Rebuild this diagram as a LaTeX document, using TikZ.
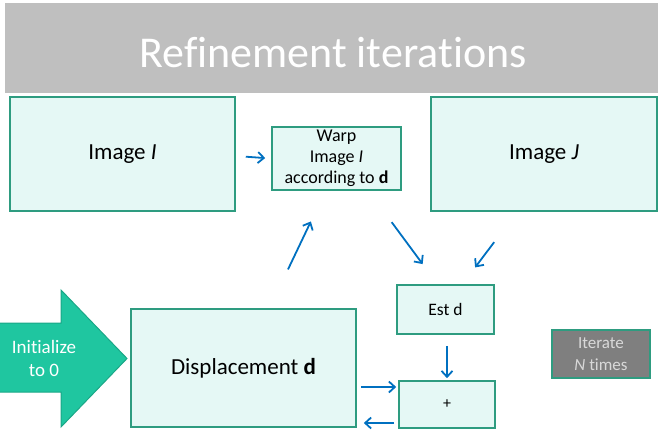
\documentclass[tikz,border=0pt]{standalone}
\usepackage{fontspec}
\setmainfont{Carlito}[Ligatures=NoCommon]
\usepackage{tikz}
\usetikzlibrary{arrows.meta}
\definecolor{boxfill}{HTML}{E5F8F5}
\definecolor{boxline}{HTML}{2E9C80}
\definecolor{flow}{HTML}{0070C0}
\definecolor{initfill}{HTML}{1FC6A0}
\definecolor{initline}{HTML}{1AA787}
\definecolor{banner}{HTML}{BFBFBF}
\definecolor{iterfill}{HTML}{7F7F7F}

\begin{document}
\begin{tikzpicture}[x=1pt,y=-1pt,
  box/.style={draw=boxline,fill=boxfill,line width=1.6pt,inner sep=0pt,align=center},
  flowarrow/.style={draw=flow,line width=1.8pt,-{Straight Barb[length=6pt,width=11pt]}}]
  \useasboundingbox (0,0) rectangle (658,430);
  \fill[banner] (5,3) rectangle (665,93);
  \node[text=white,font=\fontsize{44}{50}\selectfont] (title) at (333,53) {Refinement iterations};
  \node[box,minimum width=225pt,minimum height=114pt,font=\fontsize{23}{27}\selectfont] (imgI) at (122.5,154) {Image \textit{I}};
  \node[box,minimum width=226pt,minimum height=114pt,font=\fontsize{23}{27}\selectfont] (imgJ) at (544,154) {Image \textit{J}};
  \node[box,minimum width=129pt,minimum height=63pt,font=\fontsize{18}{21}\selectfont] (warp) at (336.5,158.5) {Warp\\Image \textit{I}\\according to \textbf{d}};
  \node[box,minimum width=97pt,minimum height=49pt,font=\fontsize{17.5}{21}\selectfont] (estd) at (445.5,309.5) {Est d};
  \node[box,minimum width=96pt,minimum height=47pt,font=\fontsize{16}{20}\selectfont] (plus) at (447,404.5) {+};
  \node[box,minimum width=225pt,minimum height=118pt,font=\fontsize{23}{27}\selectfont] (disp) at (243.5,368) {Displacement \textbf{d}};
  \node[box,fill=iterfill,text=black!15,minimum width=98pt,minimum height=48pt,
    font=\fontsize{17}{22}\selectfont] (iter) at (601,354) {Iterate\\\textit{N} times};
  \draw[fill=initfill,draw=initline,line width=1pt] (-5,323) -- (61,323) -- (61,290) -- (127,358.5)
    -- (61,427) -- (61,392) -- (-5,392) -- cycle;
  \node[text=white,align=center,font=\fontsize{19}{23}\selectfont] (init) at (44,358) {Initialize\\to 0};
  \draw[flowarrow,shorten <=10pt,shorten >=6pt] ([yshift=-2pt]imgI.east) -- (warp.west);
  \draw[flowarrow,shorten <=43pt,shorten >=34pt] ([xshift=26pt]disp.north) -- ([xshift=-11pt]warp.south);
  \draw[flowarrow,shorten <=39pt,shorten >=25pt] ([xshift=32pt]warp.south) -- ([xshift=-8pt]estd.north);
  \draw[flowarrow,shorten <=38pt,shorten >=21pt] ([xshift=-27pt]imgJ.south) -- ([xshift=17pt]estd.north);
  \draw[flowarrow,shorten <=11pt,shorten >=2pt] ([xshift=1.5pt]estd.south) -- (plus.north);
  \draw[flowarrow,shorten <=4pt,shorten >=2pt] ([yshift=-19pt]disp.east) -- ([yshift=17.5pt]plus.west);
  \draw[flowarrow,shorten <=4pt,shorten >=7pt] ([yshift=-18.5pt]plus.west) -- ([yshift=-55pt]disp.east);
\end{tikzpicture}
\end{document}
